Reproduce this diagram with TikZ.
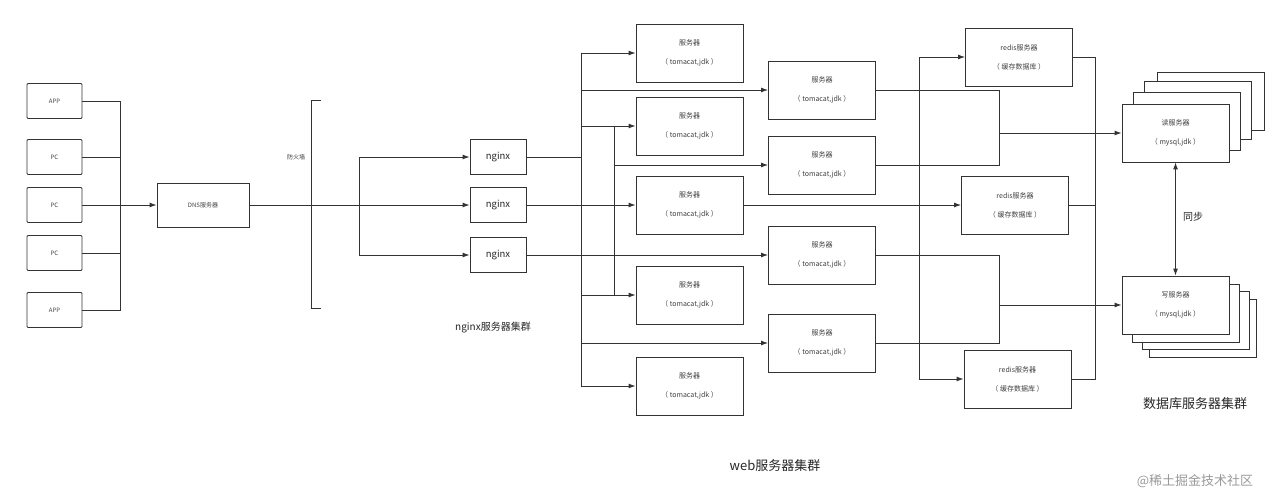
\documentclass[tikz,border=0pt]{standalone}
\usepackage{fontspec}
\setmainfont{Noto Sans CJK SC}
\usetikzlibrary{arrows.meta}
\begin{document}
\begin{tikzpicture}[x=1pt,y=-1pt,
  box/.style={draw=black!80,line width=0.9pt,inner sep=0pt,font=\fontsize{7}{19}\selectfont,align=center,text=black!75},
  ln/.style={draw=black!80,line width=0.9pt},
  arr/.style={ln,-{Latex[length=7pt,width=5pt]}},
  srv/.style={box,minimum width=107pt,minimum height=58pt}]
\useasboundingbox (0,0) rectangle (1281,497);
% clients
\node[box,minimum width=55pt,minimum height=35pt,rounded corners=1pt,font=\fontsize{6}{7}\selectfont] (a1) at (54.5,101) {APP};
\node[box,minimum width=55pt,minimum height=35pt,rounded corners=1pt,font=\fontsize{6}{7}\selectfont] (p1) at (54.5,157) {PC};
\node[box,minimum width=55pt,minimum height=35pt,rounded corners=1pt,font=\fontsize{6}{7}\selectfont] (p2) at (54.5,205) {PC};
\node[box,minimum width=55pt,minimum height=35pt,rounded corners=1pt,font=\fontsize{6}{7}\selectfont] (p3) at (54.5,253) {PC};
\node[box,minimum width=55pt,minimum height=35pt,rounded corners=1pt,font=\fontsize{6}{7}\selectfont] (a2) at (54.5,310) {APP};
\coordinate (bt) at (120,101); \coordinate (bb) at (120,310); \coordinate (bm) at (120,205);
\draw[ln] (a1.east) -- (bt) -- (bb) -- (a2.east);
\draw[ln] (p1.east) -- (120,157); \draw[ln] (p2.east) -- (bm); \draw[ln] (p3.east) -- (120,253);
\node[box,minimum width=92pt,minimum height=44pt,font=\fontsize{6}{7}\selectfont] (dns) at (203,205) {DNS服务器};
\draw[arr] (bm) -- (dns.west);
% firewall
\coordinate (f1) at (321,100); \coordinate (f2) at (311,100); \coordinate (f3) at (311,308); \coordinate (f4) at (321,308);
\draw[ln] (f1) -- (f2) -- (f3) -- (f4);
\node[font=\fontsize{6}{7}\selectfont,text=black!75] (fw) at (296,157) {防火墙};
% nginx
\node[box,minimum width=56pt,minimum height=35pt,font=\fontsize{9.5}{10}\selectfont,text=black!85] (n1) at (498,157) {nginx};
\node[box,minimum width=56pt,minimum height=35pt,font=\fontsize{9.5}{10}\selectfont,text=black!85] (n2) at (498,205) {nginx};
\node[box,minimum width=56pt,minimum height=35pt,font=\fontsize{9.5}{10}\selectfont,text=black!85] (n3) at (498,255) {nginx};
\coordinate (j1) at (359,157); \coordinate (j2) at (359,205); \coordinate (j3) at (359,255);
\draw[ln] (dns.east) -- (j2);
\draw[arr] (j2) -- (n2.west);
\draw[arr] (j2) -- (j1) -- (n1.west);
\draw[arr] (j2) -- (j3) -- (n3.west);
\node[font=\fontsize{10}{11}\selectfont,text=black!85] (nl) at (493,328) {nginx服务器集群};
% web servers
\foreach \n/\y in {s1/53,s2/126,s3/205,s4/295,s5/386}
  \node[srv] (\n) at (689.5,\y) {服务器\\（ tomacat,jdk ）};
\foreach \n/\y in {t1/90,t2/165,t3/255,t4/343}
  \node[srv] (\n) at (822,\y) {服务器\\（ tomacat,jdk ）};
% bus A
\coordinate (A1) at (581,53); \coordinate (A2) at (581,90); \coordinate (A3) at (581,126);
\coordinate (A4) at (581,157); \coordinate (A5) at (581,295); \coordinate (A6) at (581,343); \coordinate (A7) at (581,386);
\draw[ln] (n1.east) -- (A4);
\draw[arr] (A4) -- (A1) -- (s1.west);
\draw[arr] (A2) -- (t1.west);
\draw[arr] (A3) -- (s2.west);
\draw[arr] (A4) -- (A7) -- (s5.west);
\draw[arr] (A5) -- (s4.west);
\draw[arr] (A6) -- (t4.west);
% bus B
\coordinate (B1) at (614,126); \coordinate (B2) at (614,165); \coordinate (B3) at (614,295);
\draw[ln] (B1) -- (B3);
\draw[arr] (B2) -- (t2.west);
\draw[arr] (n2.east) -- (s3.west);
\draw[arr] (n3.east) -- (t3.west);
% redis
\node[srv] (r1) at (1019,57) {redis服务器\\（ 缓存数据库 ）};
\node[srv] (r2) at (1015,205) {redis服务器\\（ 缓存数据库 ）};
\node[srv] (r3) at (1017.5,379) {redis服务器\\（ 缓存数据库 ）};
\coordinate (C1) at (919,57); \coordinate (C2) at (919,379);
\draw[arr] (C2) -- (C1) -- (r1.west);
\draw[arr] (C2) -- (r3.west);
\draw[arr] (s3.east) -- (r2.west);
\coordinate (D1) at (1095,57); \coordinate (D2) at (1095,379); \coordinate (D3) at (1095,205);
\draw[ln] (r1.east) -- (D1) -- (D2) -- (r3.east);
\draw[ln] (r2.east) -- (D3);
% database
\foreach \x/\y in {1157/72,1144/81,1133/92}
  \draw[ln,fill=white] (\x,\y) rectangle ++(107,58);
\node[srv,fill=white] (rd) at (1175.5,133) {读服务器\\（ mysql,jdk ）};
\foreach \x/\y in {1149/299,1142/291,1132/284}
  \draw[ln,fill=white] (\x,\y) rectangle ++(107,58);
\node[srv,fill=white] (wr) at (1175.5,305) {写服务器\\（ mysql,jdk ）};
\coordinate (E1) at (999,90); \coordinate (E2) at (999,165); \coordinate (E3) at (999,133);
\draw[ln] (t1.east) -- (E1) -- (E2) -- (t2.east);
\draw[arr] (E3) -- (rd.west);
\coordinate (G1) at (999,255); \coordinate (G2) at (999,343); \coordinate (G3) at (999,305);
\draw[ln] (t3.east) -- (G1) -- (G2) -- (t4.east);
\draw[arr] (G3) -- (wr.west);
\draw[ln,{Latex[length=7pt,width=5pt]}-{Latex[length=7pt,width=5pt]}] (rd.south) -- (wr.north);
\node[font=\fontsize{10}{11}\selectfont,text=black!85] (sy) at (1193,217) {同步};
\node[font=\fontsize{13}{14}\selectfont,text=black!85] (dbl) at (1195,404) {数据库服务器集群};
\node[font=\fontsize{13}{14}\selectfont,text=black!85] (wl) at (775,466) {web服务器集群};
\node[font=\fontsize{13}{14}\selectfont,text=black!40] (wm) at (1195,481) {@稀土掘金技术社区};
\end{tikzpicture}
\end{document}
